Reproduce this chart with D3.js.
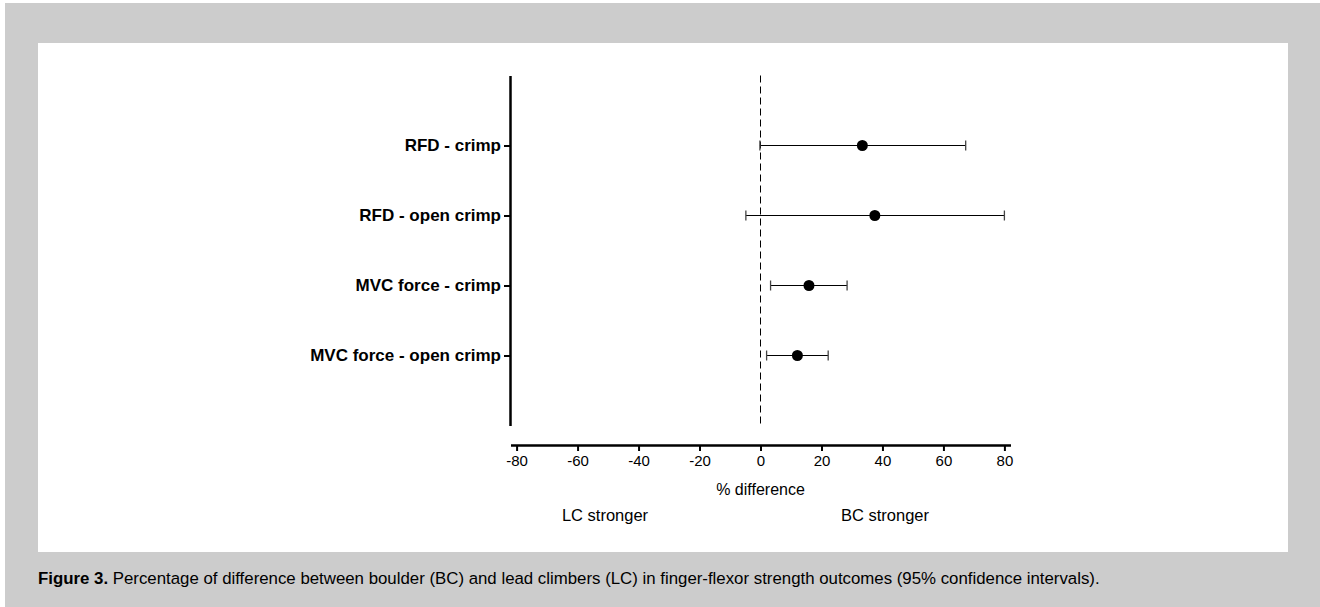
<!DOCTYPE html>
<html>
<head>
<meta charset="utf-8">
<script src="https://cdn.jsdelivr.net/npm/d3@7"></script>
<style>
  body { margin: 0; background: #fff; }
  svg { display: block; font-family: "Liberation Sans", Arial, sans-serif; }
</style>
</head>
<body>
<div id="chart-area"></div>
<script>
// data
let outcomes = ["RFD - crimp", "RFD - open crimp", "MVC force - crimp", "MVC force - open crimp"];
let meanDiff = [33.4, 37.5, 15.9, 12.1];
let ciLow = [-0.2, -4.8, 3.3, 2.0];
let ciHigh = [67.3, 80.0, 28.4, 22.2];
let xTicks = [-80, -60, -40, -20, 0, 20, 40, 60, 80];

let width = 1320,
height = 607;

let svg = d3.select("#chart-area").append("svg")
  .attr("width", width)
  .attr("height", height);

// page frame
svg.append("rect").attr("x", 5).attr("y", 3).attr("width", width - 5).attr("height", height - 3).attr("fill", "#cccccc");
svg.append("rect").attr("x", 38).attr("y", 43).attr("width", 1250).attr("height", 509).attr("fill", "#ffffff");

let x = d3.scaleLinear().domain([-82, 82]).range([510.5, 1010.5]);
// categories sit at 1..4 on a 0..5 axis
let y = d3.scaleLinear().domain([0, 5]).range([75.5, 425.5]);

let rows = outcomes.map((d, i) => ({ name: d, m: meanDiff[i], lo: ciLow[i], hi: ciHigh[i], pos: i + 1 }));

// x axis
let xAxis = svg.append("g")
  .attr("transform", "translate(0,445)")
  .call(d3.axisBottom(x).tickValues(xTicks).tickFormat(d => String(d))
    .tickSize(6).tickSizeOuter(0).tickPadding(4));
xAxis.select(".domain").attr("stroke-width", 2.5);
xAxis.selectAll(".tick line").attr("stroke-width", 2);
xAxis.selectAll("text").attr("font-size", 15).attr("fill", "#000")
  .attr("font-family", "Liberation Sans, Arial, sans-serif");

// y axis
let yAxis = svg.append("g")
  .attr("transform", "translate(510,0)")
  .call(d3.axisLeft(y).tickValues(rows.map(d => d.pos)).tickFormat((d, i) => outcomes[i])
    .tickSize(6).tickSizeOuter(0).tickPadding(3));
yAxis.select(".domain").attr("stroke-width", 2.5);
yAxis.selectAll(".tick line").attr("stroke-width", 2);
yAxis.selectAll("text").attr("font-size", 17).attr("font-weight", "bold").attr("fill", "#000")
  .attr("font-family", "Liberation Sans, Arial, sans-serif");

// zero reference line
svg.append("line")
  .attr("x1", x(0)).attr("x2", x(0))
  .attr("y1", y(0)).attr("y2", y(5))
  .attr("stroke", "#000").attr("stroke-width", 1)
  .attr("stroke-dasharray", "7,4");

// confidence intervals
let ci = svg.selectAll(".ci").data(rows).enter().append("g").attr("class", "ci");
ci.append("line")
  .attr("x1", d => x(d.lo)).attr("x2", d => x(d.hi))
  .attr("y1", d => y(d.pos)).attr("y2", d => y(d.pos))
  .attr("stroke", "#000").attr("stroke-width", 1);
ci.append("line")
  .attr("x1", d => x(d.lo)).attr("x2", d => x(d.lo))
  .attr("y1", d => y(d.pos) - 5).attr("y2", d => y(d.pos) + 5)
  .attr("stroke", "#444").attr("stroke-width", 1.3);
ci.append("line")
  .attr("x1", d => x(d.hi)).attr("x2", d => x(d.hi))
  .attr("y1", d => y(d.pos) - 5).attr("y2", d => y(d.pos) + 5)
  .attr("stroke", "#444").attr("stroke-width", 1.3);

// means
svg.selectAll(".dot").data(rows).enter().append("circle")
  .attr("class", "dot")
  .attr("cx", d => x(d.m)).attr("cy", d => y(d.pos))
  .attr("r", 5.5).attr("fill", "#000");

// labels
svg.append("text").attr("x", x(0)).attr("y", 495).attr("text-anchor", "middle")
  .attr("font-size", 16).text("% difference");
svg.append("text").attr("x", 605).attr("y", 521).attr("text-anchor", "middle")
  .attr("font-size", 16.5).text("LC stronger");
svg.append("text").attr("x", 885).attr("y", 521).attr("text-anchor", "middle")
  .attr("font-size", 16.5).text("BC stronger");

// caption, squeezed to the width used in the figure
let cap = svg.append("text").attr("x", 0).attr("y", 0).attr("font-size", 17);
cap.append("tspan").attr("font-weight", "bold").text("Figure 3.");
cap.append("tspan").text(" Percentage of difference between boulder (BC) and lead climbers (LC) in finger-flexor strength outcomes (95% confidence intervals).");
let capW = cap.node().getComputedTextLength();
cap.attr("transform", "translate(38,584) scale(" + (1062 / capW) + ",1)");
</script>
</body>
</html>
